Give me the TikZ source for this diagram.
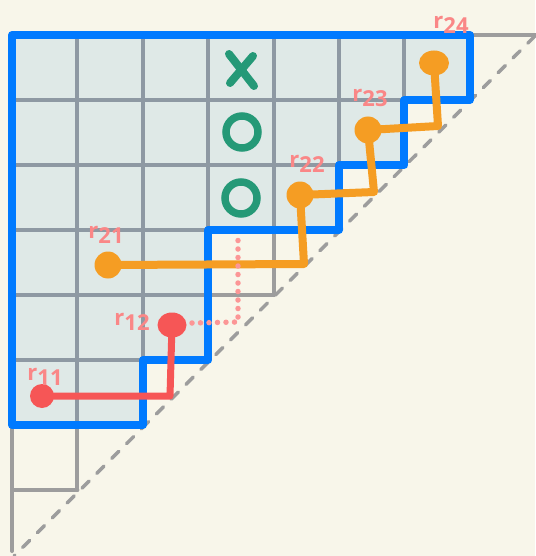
\documentclass[tikz,border=0pt]{standalone}
\usepackage{fontspec}
\setmainfont{Open Sans}
\usetikzlibrary{shapes.geometric}
\definecolor{bgcream}{RGB}{248,246,234}
\definecolor{bluestroke}{RGB}{0,122,255}
\definecolor{bluefill}{RGB}{21,128,215}
\definecolor{gridgray}{RGB}{157,157,157}
\definecolor{mkgreen}{RGB}{37,153,119}
\definecolor{orng}{RGB}{245,157,35}
\definecolor{redd}{RGB}{246,86,86}
\definecolor{lblpink}{RGB}{250,135,135}
\definecolor{dotpink}{RGB}{252,150,150}
\begin{document}
\begin{tikzpicture}[x=1pt,y=-1pt,
  gridline/.style={draw=gridgray,line width=4pt,line cap=round},
  diagline/.style={draw=gridgray,line width=3.5pt,dash pattern=on 10pt off 11pt,line cap=round},
  outline/.style={draw=bluestroke,line width=8pt,line join=round,line cap=round},
  regionfill/.style={fill=bluefill,fill opacity=0.11},
  odot/.style={circle,fill=orng,minimum size=27pt,inner sep=0pt},
  rdot/.style={circle,fill=redd,minimum size=24pt,inner sep=0pt},
  opath/.style={draw=orng,line width=8pt,line join=round},
  rpath/.style={draw=redd,line width=7pt,line join=round},
  pinkdots/.style={draw=dotpink,line width=5.5pt,line cap=round,dash pattern=on 0pt off 8.5pt},
  lbl/.style={text=lblpink,font=\fontsize{22}{22}\selectfont\bfseries,inner sep=0pt},
  omark/.style={circle,draw=mkgreen,line width=7.5pt,minimum size=32pt,inner sep=0pt},
  xmark/.style={draw=mkgreen,line width=8pt,line cap=round}]
\fill[bgcream] (0,0) rectangle (535,556);
\useasboundingbox (0,0) rectangle (535,556);
% staircase grid
\foreach \r in {0,...,7}{
  \draw[gridline] (12,35+65*\r) -- ({min(12+65.4*(8-\r),540)},35+65*\r);
}
\foreach \c in {0,...,7}{
  \draw[gridline] (12+65.4*\c,35) -- (12+65.4*\c,{min(35+65*(8-\c),551)});
}
% diagonal
\coordinate (dtop) at (535,36);
\coordinate (dbot) at (14,556);
\draw[diagline] (dtop) -- (dbot);
% blue region
\path[regionfill] (12,35) -- (469.8,35) -- (469.8,100) -- (404.4,100) -- (404.4,165) -- (339,165) -- (339,230) -- (208.2,230) -- (208.2,360) -- (142.8,360) -- (142.8,425) -- (12,425) -- cycle;
\draw[outline] (12,35) -- (469.8,35) -- (469.8,100) -- (404.4,100) -- (404.4,165) -- (339,165) -- (339,230) -- (208.2,230) -- (208.2,360) -- (142.8,360) -- (142.8,425) -- (12,425) -- cycle;
% green marks
\coordinate (xa1) at (229,54);
\coordinate (xa2) at (254,86);
\coordinate (xb1) at (253,56);
\coordinate (xb2) at (230,83);
\draw[xmark] (xa1) -- (xa2);
\draw[xmark] (xb1) -- (xb2);
\node[omark] (o1) at (242,132) {};
\node[omark] (o2) at (241,198) {};
% dots
\node[odot] (r21) at (108,265) {};
\node[odot] (r22) at (300,195) {};
\node[odot] (r23) at (368,130) {};
\node[odot,ellipse,minimum width=30pt,minimum height=25pt] (r24) at (434,63) {};
\node[rdot] (r11) at (42,396) {};
\node[rdot,ellipse,minimum width=29pt,minimum height=25pt] (r12) at (172,325) {};
% orange path
\coordinate (oc1) at (304,264);
\coordinate (oc2) at (374,192);
\coordinate (oc3) at (438,126);
\draw[opath] (r21.center) -- (oc1) -- (r22.center) -- (oc2) -- (r23.center) -- (oc3) -- (r24.center);
% red path
\coordinate (rc1) at (170,396);
\draw[rpath] (r11.center) -- (rc1) -- (r12.center);
% pink dotted
\coordinate (pc0) at (192,323);
\coordinate (pc1) at (238,322);
\coordinate (pc2) at (238,235);
\draw[pinkdots] (pc0) -- (pc1) -- (pc2);
% labels
\node[lbl] (l11) at (45,377) {r\raisebox{-5pt}{11}};
\node[lbl] (l12) at (132,322) {r\raisebox{-5pt}{12}};
\node[lbl] (l21) at (106,235) {r\raisebox{-5pt}{21}};
\node[lbl] (l22) at (307,164) {r\raisebox{-5pt}{22}};
\node[lbl] (l23) at (370,98) {r\raisebox{-5pt}{23}};
\node[lbl] (l24) at (451,25) {r\raisebox{-5pt}{24}};
\end{tikzpicture}
\end{document}
